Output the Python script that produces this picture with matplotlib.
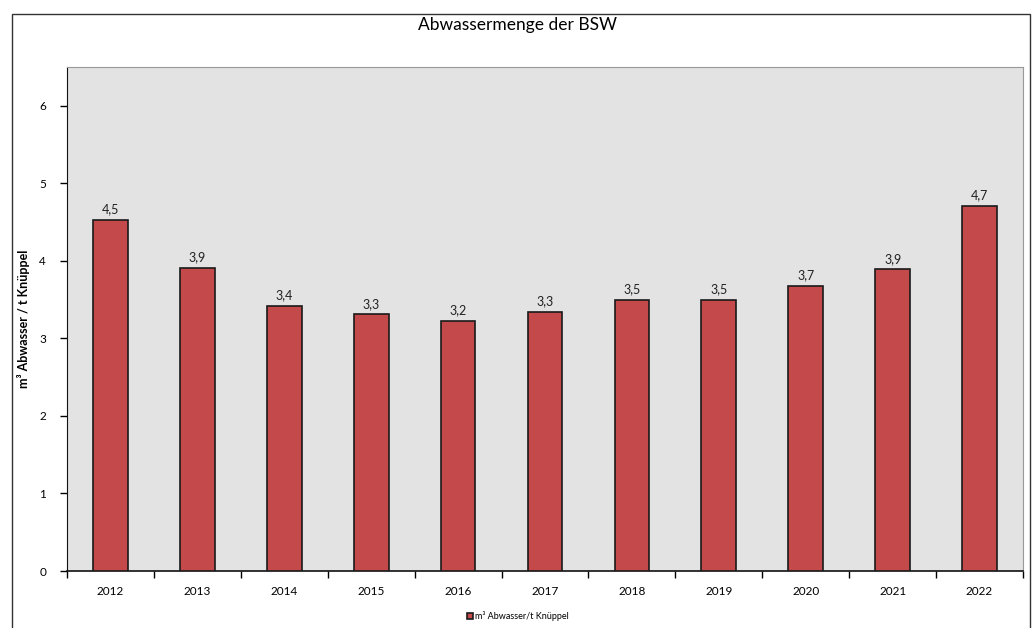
import numpy as np
import matplotlib.pyplot as plt
from matplotlib.patches import Rectangle

plt.rcParams['font.family'] = ['Lato', 'DejaVu Sans']

years = ["2012", "2013", "2014", "2015", "2016", "2017", "2018", "2019", "2020", "2021", "2022"]
values = [4.53, 3.91, 3.42, 3.31, 3.23, 3.34, 3.50, 3.50, 3.68, 3.89, 4.71]
yticks = [0, 1, 2, 3, 4, 5, 6]

fig = plt.figure(figsize=(10.36, 6.28), dpi=100)
ax = fig.add_axes([67 / 1036, 1 - 571 / 628, (1023 - 67) / 1036, (571 - 67) / 628])

# outer chart border
fig.patches.append(Rectangle((12 / 1036, -0.01), (1030 - 12) / 1036, 1 - 14 / 628 + 0.01,
                             transform=fig.transFigure, fill=False, edgecolor='#333333', linewidth=1))

x = np.arange(len(years))
bars = ax.bar(x, values, width=0.4, color='#c4494a', edgecolor='#1a1a1a', linewidth=1.2,
              label="m³ Abwasser/t Knüppel", zorder=3)
for xi, v in zip(x, values):
    ax.text(xi, v + 0.06, f"{v:.1f}".replace('.', ','), ha='center', va='bottom', fontsize=9, color='#222222')

ax.set_facecolor('#e3e3e3')
ax.set_xlim(-0.5, len(years) - 0.5)
ax.set_ylim(0, 6.5)
ax.set_yticks(yticks)
ax.set_xticks(x)
ax.set_xticklabels(years, fontsize=8.5)
ax.tick_params(axis='x', length=0, pad=11)
ax.set_xticks(np.arange(-0.5, len(years) + 0.5, 1), minor=True)
ax.tick_params(axis='x', which='minor', length=5, width=1, direction='out')
ax.tick_params(axis='y', length=5, width=1, direction='out', labelsize=8.5, pad=10)

for side in ['top', 'right']:
    ax.spines[side].set_color('#999999')
ax.spines['left'].set_color('#111111')
ax.spines['bottom'].set_color('#111111')
ax.spines['bottom'].set_linewidth(1.2)

ax.set_ylabel("m³ Abwasser / t Knüppel", fontsize=9, fontweight='bold')
ax.yaxis.set_label_coords((30 - 67) / 956, 0.5)

fig.text(0.5, 1 - 25 / 628, "Abwassermenge der BSW", ha='center', va='center', fontsize=12.5)

fig.legend(handles=[bars], loc='center', bbox_to_anchor=(0.5, 1 - 616 / 628), frameon=False,
           fontsize=6.5, handlelength=0.7, handleheight=0.7, handletextpad=0.2)

fig.savefig("out.png", dpi=100)
